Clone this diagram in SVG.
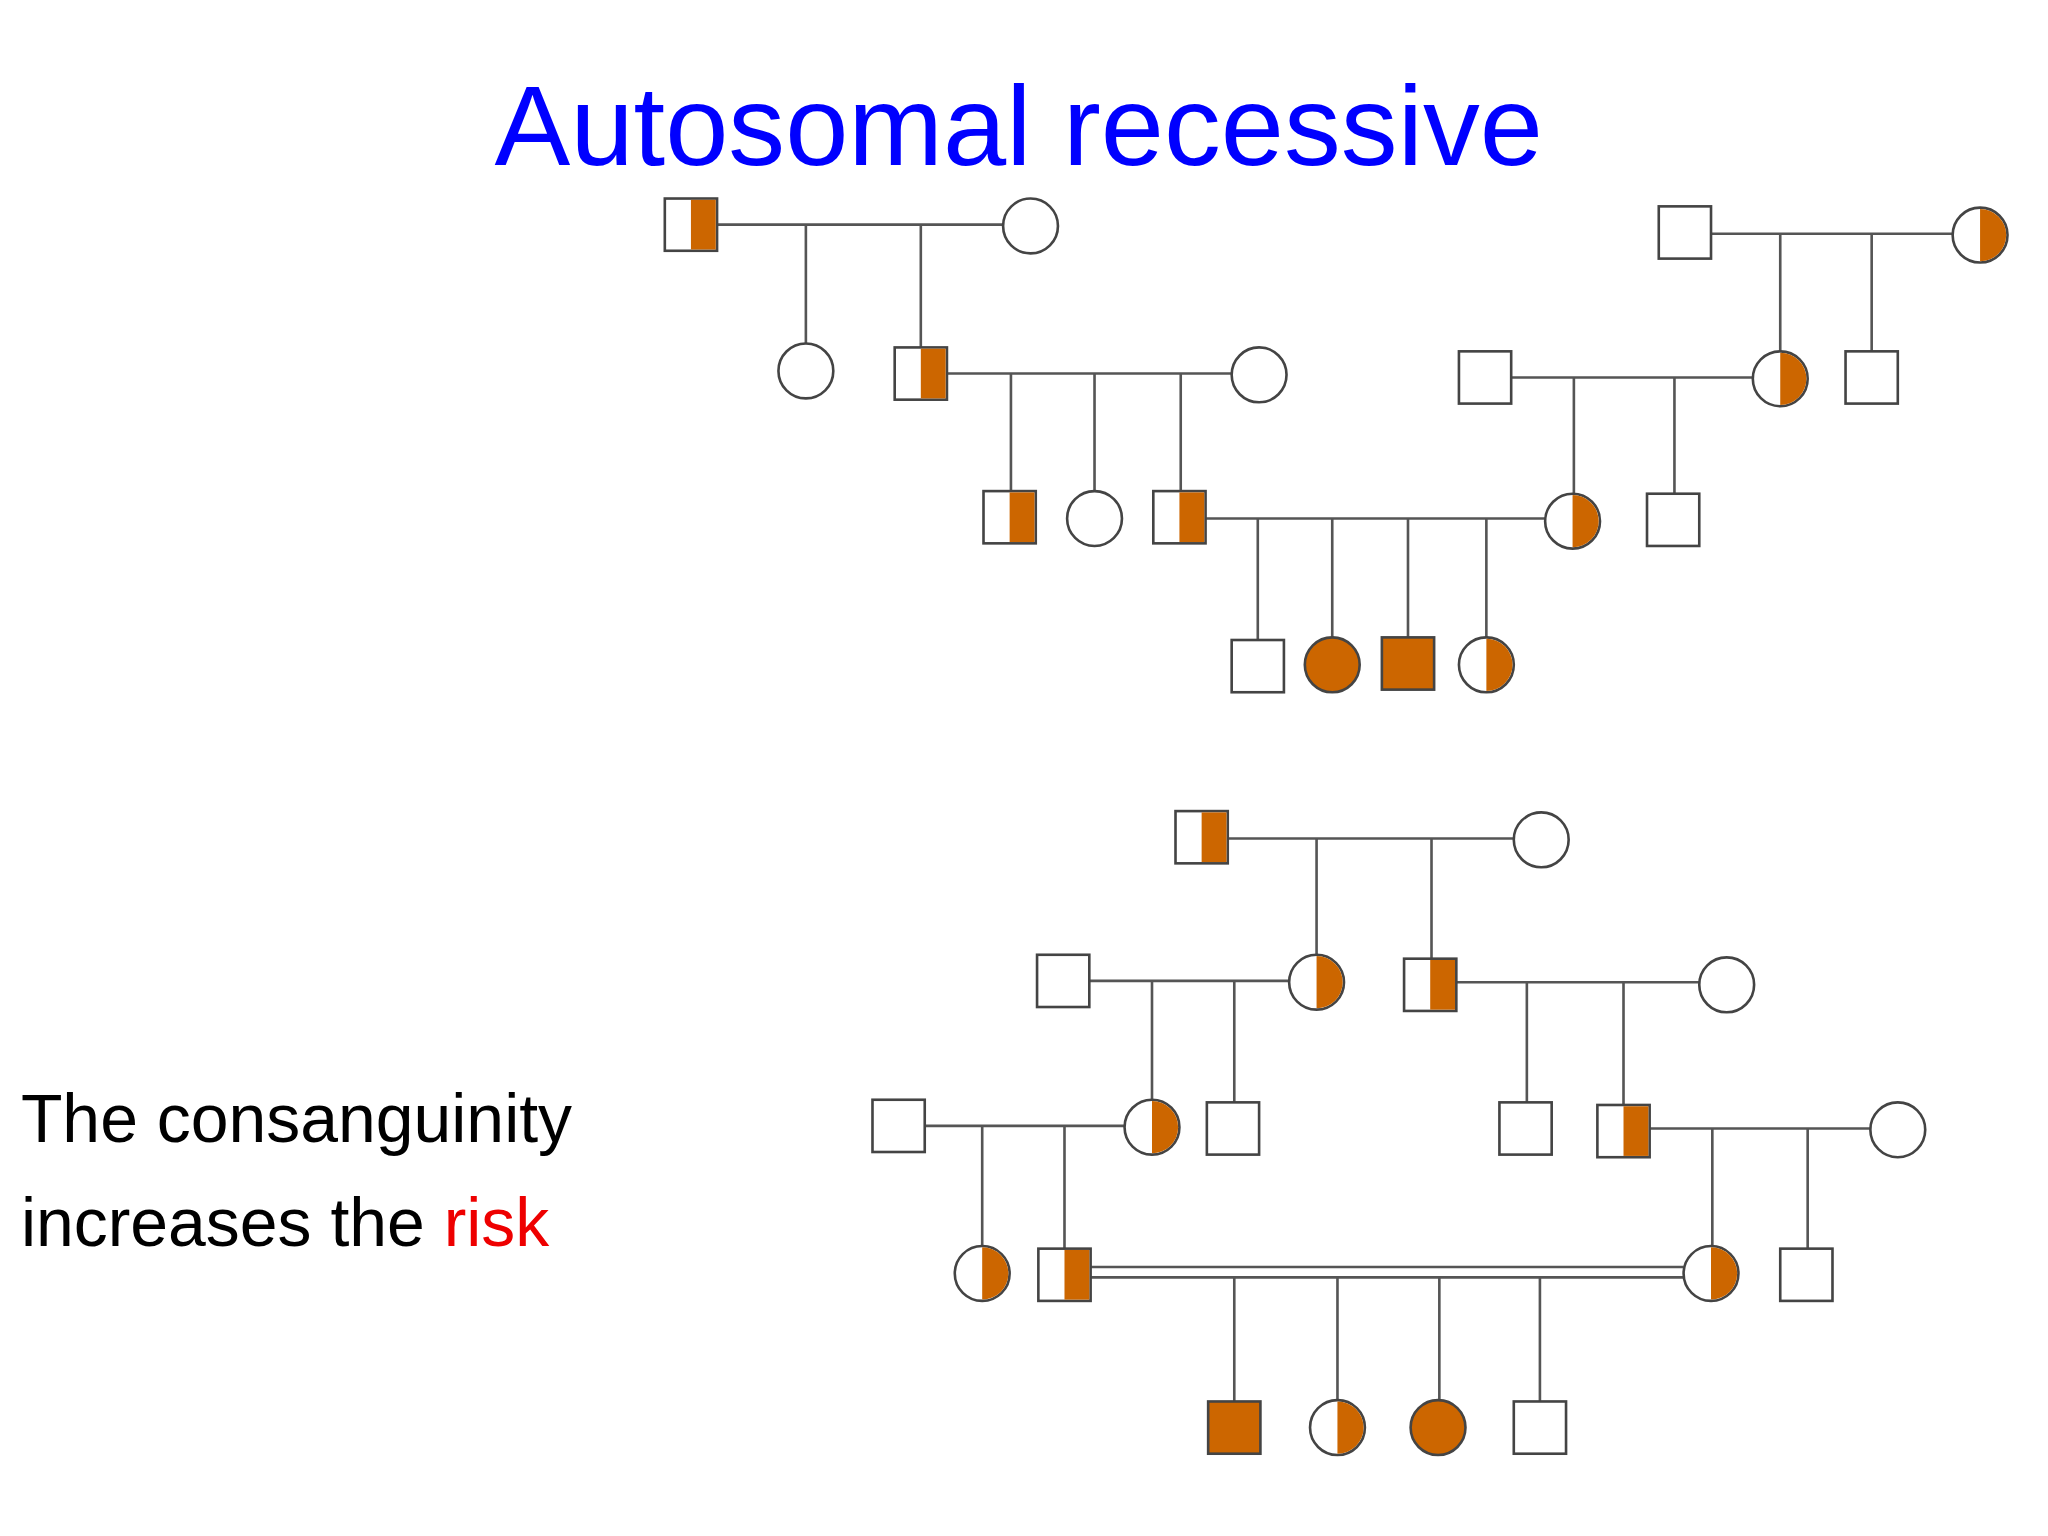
<svg xmlns="http://www.w3.org/2000/svg" width="2048" height="1536" viewBox="0 0 2048 1536">
<defs>
<style>
.s{fill:#fff;stroke:#444;stroke-width:2}
.o{fill:#CC6600}
.l{stroke:#555;stroke-width:2;fill:none}
</style>
<symbol id="sq" overflow="visible"><rect class="s" x="-20" y="-20" width="40" height="40"/></symbol>
<symbol id="sqh" overflow="visible"><rect class="s" x="-20" y="-20" width="40" height="40"/><rect class="o" x="0" y="-19" width="19" height="38"/></symbol>
<symbol id="sqf" overflow="visible"><rect x="-20" y="-20" width="40" height="40" fill="#CC6600" stroke="#444" stroke-width="2"/></symbol>
<symbol id="ci" overflow="visible"><circle class="s" r="21"/></symbol>
<symbol id="cih" overflow="visible"><circle class="s" r="21"/><path class="o" d="M0,-20 A20,20 0 0 1 0,20 Z"/></symbol>
<symbol id="cif" overflow="visible"><circle r="21" fill="#CC6600" stroke="#444" stroke-width="2"/></symbol>
</defs>
<rect width="2048" height="1536" fill="#fff"/>
<g transform="scale(1.30612)">
<text x="780" y="126" text-anchor="middle" font-family="Liberation Sans, Arial, sans-serif" font-size="87" fill="#0000ff">Autosomal recessive</text>
<text x="16" y="874" font-family="Liberation Sans, Arial, sans-serif" font-size="52" fill="#000">The consanguinity</text>
<text x="16" y="954" font-family="Liberation Sans, Arial, sans-serif" font-size="52" fill="#000">increases the <tspan fill="#ee0000">risk</tspan></text>
<g id="connectors">
<path class="l" d="M549,172H768M617,172V263M705,172V266"/>
<path class="l" d="M725,286H943M774,286V376M838,286V376M904,286V376"/>
<path class="l" d="M923,397H1183M963,397V490M1020,397V488M1078,397V488M1138,397V488"/>
<path class="l" d="M1310,179H1495M1363,179V269M1433,179V269"/>
<path class="l" d="M1157,289H1342M1205,289V378M1282,289V378"/>
<path class="l" d="M940,642H1159M1008,642V731M1096,642V734"/>
<path class="l" d="M834,751H987M882,751V842M945,751V844"/>
<path class="l" d="M1115,752H1301M1169,752V844M1243,752V846"/>
<path class="l" d="M708,862H861M752,862V954M815,862V956"/>
<path class="l" d="M1263,864H1432M1311,864V954M1384,864V956"/>
<path class="l" d="M835,970H1289M835,978H1289M945,978V1073M1024,978V1072M1102,978V1072M1179,978V1073"/>
</g>
<g id="n1"><use href="#sqh" x="529" y="172"/></g>
<g id="n2"><use href="#ci" x="789" y="173"/></g>
<g id="n3"><use href="#ci" x="617" y="284"/></g>
<g id="n4"><use href="#sqh" x="705" y="286"/></g>
<g id="n5"><use href="#ci" x="964" y="287"/></g>
<g id="n6"><use href="#sqh" x="773" y="396"/></g>
<g id="n7"><use href="#ci" x="838" y="397"/></g>
<g id="n8"><use href="#sqh" x="903" y="396"/></g>
<g id="n9"><use href="#cih" x="1204" y="399"/></g>
<g id="n10"><use href="#sq" x="963" y="510"/></g>
<g id="n11"><use href="#cif" x="1020" y="509"/></g>
<g id="n12"><use href="#sqf" x="1078" y="508"/></g>
<g id="n13"><use href="#cih" x="1138" y="509"/></g>
<g id="n14"><use href="#sq" x="1290" y="178"/></g>
<g id="n15"><use href="#cih" x="1516" y="180"/></g>
<g id="n16"><use href="#cih" x="1363" y="290"/></g>
<g id="n17"><use href="#sq" x="1433" y="289"/></g>
<g id="n18"><use href="#sq" x="1137" y="289"/></g>
<g id="n19"><use href="#sq" x="1281" y="398"/></g>
<g id="m1"><use href="#sqh" x="920" y="641"/></g>
<g id="m2"><use href="#ci" x="1180" y="643"/></g>
<g id="m3"><use href="#cih" x="1008" y="752"/></g>
<g id="m4"><use href="#sqh" x="1095" y="754"/></g>
<g id="m5"><use href="#sq" x="814" y="751"/></g>
<g id="m6"><use href="#ci" x="1322" y="754"/></g>
<g id="m7"><use href="#sq" x="688" y="862"/></g>
<g id="m8"><use href="#cih" x="882" y="863"/></g>
<g id="m9"><use href="#sq" x="944" y="864"/></g>
<g id="m10"><use href="#sq" x="1168" y="864"/></g>
<g id="m11"><use href="#sqh" x="1243" y="866"/></g>
<g id="m12"><use href="#ci" x="1453" y="865"/></g>
<g id="m13"><use href="#cih" x="752" y="975"/></g>
<g id="m14"><use href="#sqh" x="815" y="976"/></g>
<g id="m15"><use href="#cih" x="1310" y="975"/></g>
<g id="m16"><use href="#sq" x="1383" y="976"/></g>
<g id="m17"><use href="#sqf" x="945" y="1093"/></g>
<g id="m18"><use href="#cih" x="1024" y="1093"/></g>
<g id="m19"><use href="#cif" x="1101" y="1093"/></g>
<g id="m20"><use href="#sq" x="1179" y="1093"/></g>
</g>
</svg>
